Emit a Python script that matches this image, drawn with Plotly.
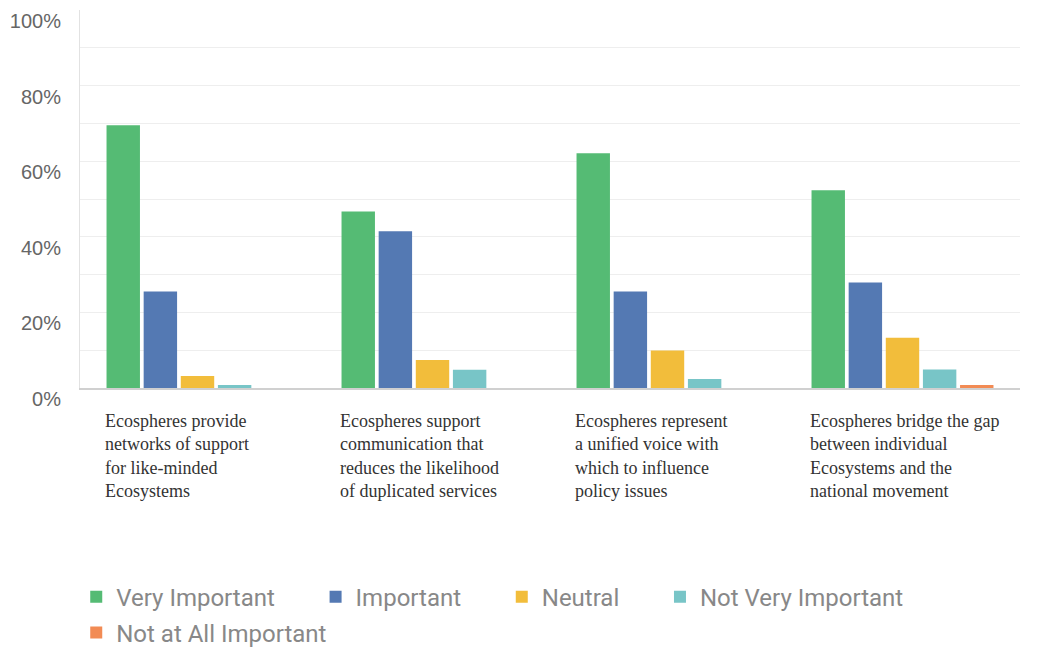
import plotly.graph_objects as go

# Survey statements (x categories) and their wrapped labels
statements = ["provide", "support", "represent", "bridge"]
statement_labels = [
    "Ecospheres provide<br>networks of support<br>for like-minded<br>Ecosystems",
    "Ecospheres support<br>communication that<br>reduces the likelihood<br>of duplicated services",
    "Ecospheres represent<br>a unified voice with<br>which to influence<br>policy issues",
    "Ecospheres bridge the gap<br>between individual<br>Ecosystems and the<br>national movement",
]

# Share of respondents (%) per rating
very_important = [69.5, 46.7, 62.1, 52.3]
important = [25.5, 41.5, 25.5, 27.9]
neutral = [3.2, 7.4, 9.9, 13.3]
not_very_important = [0.8, 4.8, 2.4, 4.9]
not_at_all_important = [0.0, 0.0, 0.0, 0.8]

# (name, values, colour, legend row)
series = [
    ("Very Important", very_important, "#55bb74", "legend"),
    ("Important", important, "#5479b3", "legend"),
    ("Neutral", neutral, "#f2bd3b", "legend"),
    ("Not Very Important", not_very_important, "#78c5c7", "legend"),
    ("Not at All Important", not_at_all_important, "#f28b54", "legend2"),
]

y_ticks = [0, 20, 40, 60, 80, 100]
y_tick_text = ["0%", "20%", "40%", "60%", "80%", "100%"]

# non-breaking spaces widen the gap between legend entries
legend_pad = "\u00a0" * 6

fig = go.Figure()
for name, values, color, legend_id in series:
    fig.add_trace(go.Bar(
        name=name + legend_pad, x=statements, y=values,
        marker=dict(color=color, line=dict(width=0)),
        legend=legend_id, hoverinfo="skip",
    ))

for cat, label in zip(statements, statement_labels):
    fig.add_annotation(
        x=cat, xref="x", y=0, yref="paper", yanchor="top", yshift=-21,
        xanchor="left", xshift=-95, align="left", showarrow=False,
        text=label,
        font=dict(family="Liberation Serif", size=18, color="#333333"),
    )

legend_style = dict(
    orientation="h", xanchor="left", yanchor="middle",
    font=dict(family="Roboto", size=24, color="#888888"),
    itemclick=False, itemdoubleclick=False, traceorder="normal",
    bgcolor="rgba(0,0,0,0)",
)

fig.update_layout(
    width=1041, height=650,
    margin=dict(l=80, r=21, t=10, b=262, autoexpand=False),
    paper_bgcolor="white", plot_bgcolor="white",
    barmode="group", bargap=0.21, bargroupgap=0.1,
    showlegend=True,
    legend=dict(x=-0.004, y=-0.553, **legend_style),
    legend2=dict(x=-0.004, y=-0.648, **legend_style),
    xaxis=dict(
        showticklabels=False, showgrid=False, zeroline=False,
        showline=True, linecolor="#d0d0d0", linewidth=2,
    ),
    yaxis=dict(
        range=[0, 100], tickvals=y_ticks, ticktext=y_tick_text,
        showgrid=True, gridcolor="#eeeeee", gridwidth=1,
        minor=dict(dtick=10, showgrid=True, gridcolor="#eeeeee", gridwidth=1),
        zeroline=False, showline=True, linecolor="#e2e2e2", linewidth=1,
        ticks="", ticklabelstandoff=14, ticklabelshift=11,
        tickfont=dict(family="Liberation Sans", size=20, color="#666666"),
    ),
)

fig.write_html("out.html")
